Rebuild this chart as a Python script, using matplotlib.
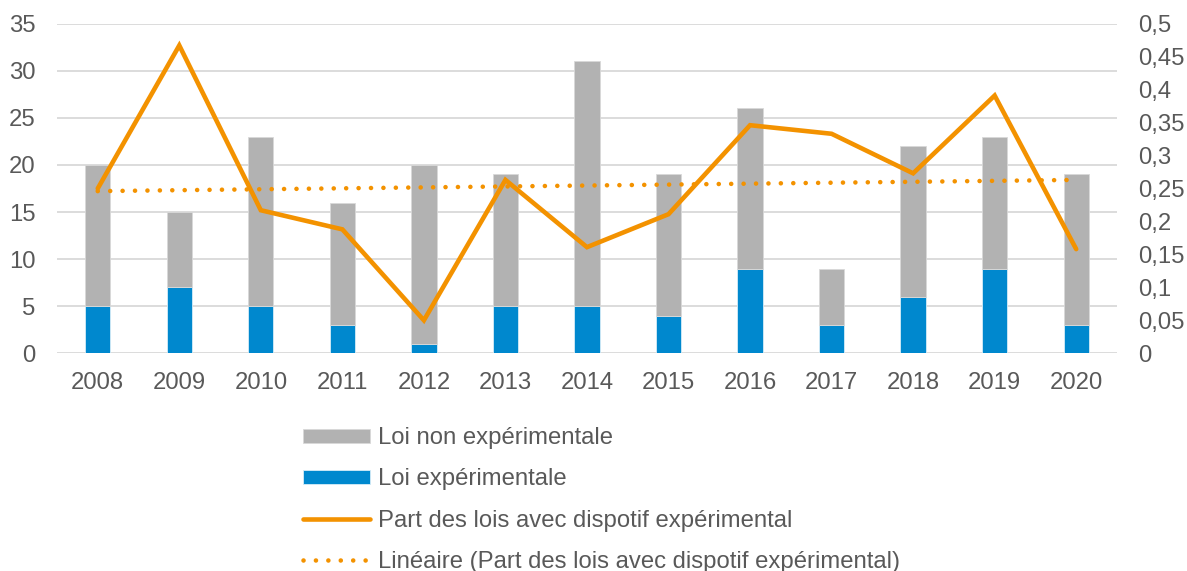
import matplotlib
matplotlib.use("Agg")
import matplotlib.pyplot as plt
from matplotlib.ticker import FuncFormatter, MultipleLocator

years = ["2008", "2009", "2010", "2011", "2012", "2013", "2014",
         "2015", "2016", "2017", "2018", "2019", "2020"]
loi_experimentale = [5, 7, 5, 3, 1, 5, 5, 4, 9, 3, 6, 9, 3]
loi_non_experimentale = [15, 8, 18, 13, 19, 14, 26, 15, 17, 6, 16, 14, 16]
part_experimentale = [0.25, 0.467, 0.217, 0.188, 0.05, 0.263, 0.161,
                      0.211, 0.346, 0.333, 0.273, 0.391, 0.158]
trend_x = [0, 12]
trend_values = [0.246, 0.263]

plt.rcParams['font.family'] = ['Liberation Sans', 'DejaVu Sans']
text_color = '#595959'
grey = '#B2B2B2'
blue = '#0088CE'
orange = '#F39200'
fs = 17.2

fig = plt.figure(figsize=(11.87, 5.71), dpi=100)
ax = fig.add_axes([0.048, 0.3813, 0.893, 0.5772])
x = list(range(len(years)))
w = 0.31
ax.bar(x, loi_experimentale, width=w, color=blue, edgecolor='#d6ecf7',
       linewidth=0.6, zorder=2, label='Loi expérimentale')
ax.bar(x, loi_non_experimentale, width=w, bottom=loi_experimentale, color=grey,
       edgecolor='#d9d9d9', linewidth=0.6, zorder=2, label='Loi non expérimentale')
ax.set_xlim(-0.5, 12.5)
ax.set_ylim(0, 35)
ax.yaxis.set_major_locator(MultipleLocator(5))
ax.set_xticks(x)
ax.set_xticklabels(years)
ax.grid(axis='y', color='#D9D9D9', linewidth=1.3, zorder=0)
ax.set_axisbelow(True)
for s in ax.spines.values():
    s.set_visible(False)
ax.tick_params(axis='both', length=0, labelsize=fs, colors=text_color)
ax.tick_params(axis='y', pad=15.5)
ax.tick_params(axis='x', pad=13.3)

ax2 = ax.twinx()
ax2.set_ylim(0, 0.5)
ax2.yaxis.set_major_locator(MultipleLocator(0.05))
ax2.yaxis.set_major_formatter(FuncFormatter(
    lambda v, p: ('%g' % round(v, 2)).replace('.', ',')))
for s in ax2.spines.values():
    s.set_visible(False)
ax2.tick_params(axis='y', length=0, labelsize=fs, colors=text_color, pad=15)
ax2.plot(x, part_experimentale, color=orange, linewidth=3.3,
         solid_capstyle='round', solid_joinstyle='miter',
         label='Part des lois avec dispotif expérimental')
ax2.plot(trend_x, trend_values, color=orange, linewidth=3.3,
         linestyle=(0, (0.01, 2.7)), dash_capstyle='round',
         label='Linéaire (Part des lois avec dispotif expérimental)')

h1, l1 = ax.get_legend_handles_labels()
h2, l2 = ax2.get_legend_handles_labels()
handles = [h1[1], h1[0]] + h2
labels = [l1[1], l1[0]] + l2
leg = fig.legend(handles, labels, loc='upper left',
                 bbox_to_anchor=(0.2454, 0.2725), frameon=False,
                 fontsize=fs, handlelength=2.8, handleheight=0.5,
                 handletextpad=0.33, labelspacing=0.8, borderpad=0)
for t in leg.get_texts():
    t.set_color(text_color)

fig.savefig('out.png', dpi=100)
